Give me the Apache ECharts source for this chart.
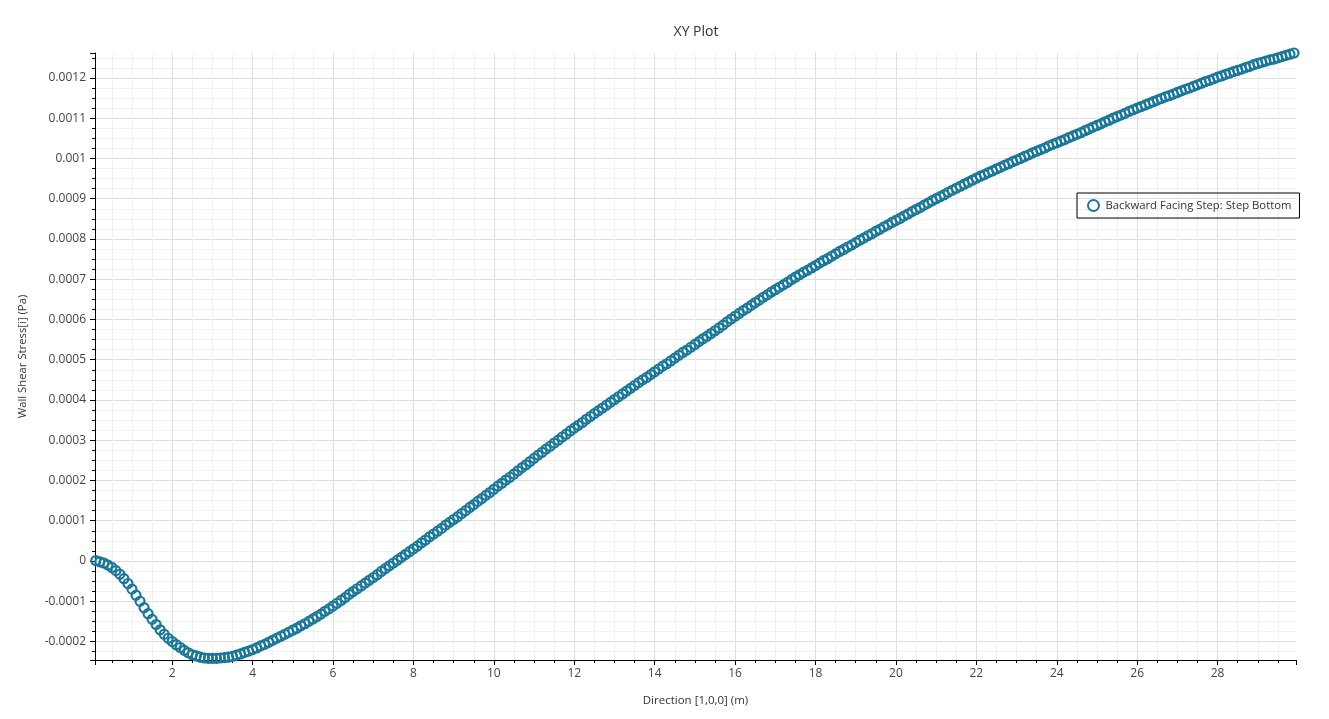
<!DOCTYPE html>
<html>
<head>
<meta charset="utf-8">
<script src="https://cdn.jsdelivr.net/npm/echarts@6/dist/echarts.min.js"></script>
<style>html,body{margin:0;padding:0;background:#fff}#c{width:1329px;height:719px}</style>
</head>
<body>
<div id="c"></div>
<script>
const chartTitle = 'XY Plot';
const seriesName = 'Backward Facing Step: Step Bottom';
const xAxisName = 'Direction [1,0,0] (m)';
const yAxisName = 'Wall Shear Stress[i] (Pa)';
const xRange = [0.08, 29.95];
const yRange = [-0.000246, 0.001262];
const xTickStep = 2;
const yTickStep = 0.0001;

const xs = [
0.1,0.2,0.3,0.4,0.5,0.6,0.7,0.8,0.9,1.0,
1.1,1.2,1.3,1.4,1.5,1.6,1.7,1.8,1.9,2.0,
2.1,2.2,2.3,2.4,2.5,2.6,2.7,2.8,2.9,3.0,
3.1,3.2,3.3,3.4,3.5,3.6,3.7,3.8,3.9,4.0,
4.1,4.2,4.3,4.4,4.5,4.6,4.7,4.8,4.9,5.0,
5.1,5.2,5.3,5.4,5.5,5.6,5.7,5.8,5.9,6.0,
6.1,6.2,6.3,6.4,6.5,6.6,6.7,6.8,6.9,7.0,
7.1,7.2,7.3,7.4,7.5,7.6,7.7,7.8,7.9,8.0,
8.1,8.2,8.3,8.4,8.5,8.6,8.7,8.8,8.9,9.0,
9.1,9.2,9.3,9.4,9.5,9.6,9.7,9.8,9.9,10.0,
10.1,10.2,10.3,10.4,10.5,10.6,10.7,10.8,10.9,11.0,
11.1,11.2,11.3,11.4,11.5,11.6,11.7,11.8,11.9,12.0,
12.1,12.2,12.3,12.4,12.5,12.6,12.7,12.8,12.9,13.0,
13.1,13.2,13.3,13.4,13.5,13.6,13.7,13.8,13.9,14.0,
14.1,14.2,14.3,14.4,14.5,14.6,14.7,14.8,14.9,15.0,
15.1,15.2,15.3,15.4,15.5,15.6,15.7,15.8,15.9,16.0,
16.1,16.2,16.3,16.4,16.5,16.6,16.7,16.8,16.9,17.0,
17.1,17.2,17.3,17.4,17.5,17.6,17.7,17.8,17.9,18.0,
18.1,18.2,18.3,18.4,18.5,18.6,18.7,18.8,18.9,19.0,
19.1,19.2,19.3,19.4,19.5,19.6,19.7,19.8,19.9,20.0,
20.1,20.2,20.3,20.4,20.5,20.6,20.7,20.8,20.9,21.0,
21.1,21.2,21.3,21.4,21.5,21.6,21.7,21.8,21.9,22.0,
22.1,22.2,22.3,22.4,22.5,22.6,22.7,22.8,22.9,23.0,
23.1,23.2,23.3,23.4,23.5,23.6,23.7,23.8,23.9,24.0,
24.1,24.2,24.3,24.4,24.5,24.6,24.7,24.8,24.9,25.0,
25.1,25.2,25.3,25.4,25.5,25.6,25.7,25.8,25.9,26.0,
26.1,26.2,26.3,26.4,26.5,26.6,26.7,26.8,26.9,27.0,
27.1,27.2,27.3,27.4,27.5,27.6,27.7,27.8,27.9,28.0,
28.1,28.2,28.3,28.4,28.5,28.6,28.7,28.8,28.9,29.0,
29.1,29.2,29.3,29.4,29.5,29.6,29.7,29.8,29.9
];

const ys = [
0.000001,-0.000002,-0.000005,-0.000010,-0.000016,-0.000024,-0.000033,-0.000044,-0.000056,-0.000070,
-0.000085,-0.000100,-0.000116,-0.000131,-0.000145,-0.000158,-0.000171,-0.000182,-0.000192,-0.000200,
-0.000208,-0.000215,-0.000222,-0.000228,-0.000233,-0.000236,-0.000239,-0.000241,-0.000242,-0.000242,
-0.000242,-0.000241,-0.000240,-0.000239,-0.000237,-0.000234,-0.000231,-0.000227,-0.000224,-0.000220,
-0.000216,-0.000211,-0.000207,-0.000202,-0.000197,-0.000192,-0.000187,-0.000182,-0.000177,-0.000172,
-0.000167,-0.000161,-0.000156,-0.000150,-0.000144,-0.000138,-0.000132,-0.000125,-0.000119,-0.000112,
-0.000105,-0.000098,-0.000091,-0.000083,-0.000076,-0.000069,-0.000062,-0.000055,-0.000048,-0.000041,
-0.000034,-0.000026,-0.000019,-0.000012,-0.000005,0.000002,0.000009,0.000016,0.000023,0.000030,
0.000037,0.000045,0.000052,0.000060,0.000067,0.000074,0.000081,0.000089,0.000096,0.000103,
0.000110,0.000118,0.000125,0.000133,0.000140,0.000148,0.000155,0.000163,0.000170,0.000178,
0.000186,0.000193,0.000201,0.000208,0.000216,0.000224,0.000232,0.000239,0.000247,0.000255,
0.000263,0.000270,0.000278,0.000285,0.000293,0.000300,0.000308,0.000315,0.000323,0.000330,
0.000337,0.000344,0.000352,0.000359,0.000366,0.000373,0.000380,0.000387,0.000394,0.000401,
0.000408,0.000415,0.000422,0.000429,0.000436,0.000443,0.000450,0.000456,0.000463,0.000470,
0.000477,0.000484,0.000490,0.000497,0.000504,0.000511,0.000518,0.000524,0.000531,0.000538,
0.000545,0.000552,0.000558,0.000565,0.000572,0.000579,0.000586,0.000594,0.000601,0.000608,
0.000615,0.000622,0.000628,0.000635,0.000642,0.000648,0.000655,0.000661,0.000668,0.000674,
0.000680,0.000686,0.000692,0.000699,0.000705,0.000711,0.000717,0.000722,0.000728,0.000734,
0.000740,0.000746,0.000751,0.000757,0.000763,0.000769,0.000774,0.000780,0.000785,0.000791,
0.000797,0.000802,0.000808,0.000813,0.000819,0.000824,0.000830,0.000835,0.000841,0.000846,
0.000851,0.000857,0.000862,0.000868,0.000873,0.000878,0.000884,0.000889,0.000895,0.000900,
0.000905,0.000910,0.000916,0.000921,0.000926,0.000931,0.000936,0.000941,0.000946,0.000951,
0.000956,0.000960,0.000965,0.000969,0.000974,0.000978,0.000983,0.000987,0.000992,0.000996,
0.001000,0.001005,0.001009,0.001014,0.001018,0.001022,0.001026,0.001031,0.001035,0.001039,
0.001043,0.001047,0.001052,0.001056,0.001060,0.001064,0.001069,0.001073,0.001078,0.001082,
0.001086,0.001091,0.001095,0.001100,0.001104,0.001108,0.001112,0.001117,0.001121,0.001125,
0.001129,0.001133,0.001137,0.001141,0.001145,0.001149,0.001153,0.001156,0.001160,0.001164,
0.001168,0.001172,0.001175,0.001179,0.001183,0.001187,0.001191,0.001194,0.001198,0.001202,
0.001205,0.001209,0.001212,0.001216,0.001219,0.001222,0.001226,0.001229,0.001233,0.001236,
0.001239,0.001242,0.001245,0.001247,0.001250,0.001253,0.001256,0.001259,0.001262
];

const FONT = '"Open Sans", "Noto Sans", sans-serif';
const MARK = '#19779a';

function stepLabel(step, digits) {
  return function (v) {
    const k = Math.round(v / step);
    if (Math.abs(v - k * step) > step * 1e-6) return '';
    if (k === 0) return '0';
    return String(Number((k * step).toFixed(digits)));
  };
}

const data = xs.map((x, i) => [x, ys[i]]);

const chart = echarts.init(document.getElementById('c'), null, { renderer: 'canvas' });
chart.setOption({
  animation: false,
  backgroundColor: '#fff',
  textStyle: { fontFamily: FONT },
  title: {
    text: chartTitle,
    left: 691,
    top: 20,
    textAlign: 'center',
    textStyle: { fontFamily: FONT, fontSize: 14, fontWeight: 'normal', color: '#333' }
  },
  legend: {
    left: 1077,
    top: 193,
    orient: 'vertical',
    padding: [6, 8, 6, 10],
    borderColor: '#000',
    borderWidth: 1,
    itemWidth: 14,
    itemHeight: 11,
    itemGap: 0,
    textStyle: { fontFamily: FONT, fontSize: 11.3, color: '#333' },
    itemStyle: { color: 'rgba(0,0,0,0)', borderColor: MARK, borderWidth: 2 },
    data: [{ name: seriesName, icon: 'circle' }]
  },
  grid: { left: 95, right: 33, top: 53, bottom: 59, containLabel: false, outerBoundsMode: 'none' },
  xAxis: {
    type: 'value',
    min: xRange[0],
    max: xRange[1],
    splitNumber: 15,
    name: xAxisName,
    nameLocation: 'middle',
    nameGap: 35,
    nameTextStyle: { fontFamily: FONT, fontSize: 11.5, color: '#333' },
    axisLine: { onZero: false, lineStyle: { color: '#000', width: 1 } },
    axisTick: { show: true, length: 5, lineStyle: { color: '#000' } },
    minorTick: { show: true, splitNumber: 4, length: 3, lineStyle: { color: '#000' } },
    axisLabel: { fontFamily: FONT, fontSize: 12, color: '#444', margin: 8, formatter: stepLabel(xTickStep, 0) },
    splitLine: { show: true, showMinLine: false, showMaxLine: false, lineStyle: { color: '#dedede', width: 1 } },
    minorSplitLine: { show: true, lineStyle: { color: '#f1f1f1', width: 1 } }
  },
  yAxis: {
    type: 'value',
    min: yRange[0],
    max: yRange[1],
    splitNumber: 15,
    name: yAxisName,
    nameLocation: 'middle',
    nameGap: 67,
    nameTextStyle: { fontFamily: FONT, fontSize: 11.3, color: '#333' },
    axisLine: { show: true, onZero: false, lineStyle: { color: '#000', width: 1 } },
    axisTick: { show: true, length: 5, lineStyle: { color: '#000' } },
    minorTick: { show: true, splitNumber: 4, length: 3, lineStyle: { color: '#000' } },
    axisLabel: { fontFamily: FONT, fontSize: 12, color: '#444', margin: 9, formatter: stepLabel(yTickStep, 4) },
    splitLine: { show: true, showMinLine: false, showMaxLine: false, lineStyle: { color: '#dedede', width: 1 } },
    minorSplitLine: { show: true, lineStyle: { color: '#f1f1f1', width: 1 } }
  },
  series: [{
    type: 'scatter',
    name: seriesName,
    data: data,
    symbol: 'circle',
    symbolSize: 9,
    itemStyle: { color: 'rgba(0,0,0,0)', borderColor: MARK, borderWidth: 2.2, opacity: 1 },
    emphasis: { disabled: true },
    clip: false
  }]
});
</script>
</body>
</html>
